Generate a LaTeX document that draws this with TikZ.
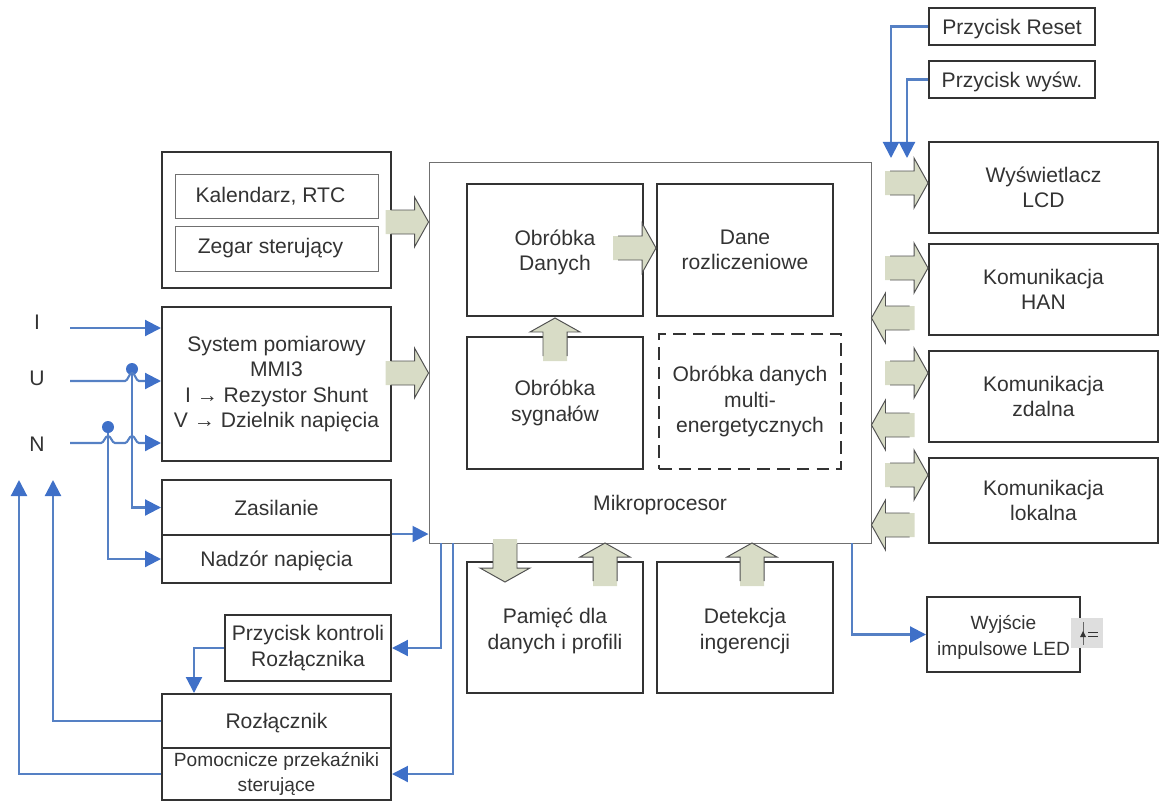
\documentclass[tikz,border=0pt]{standalone}
\usepackage{fontspec}
\setmainfont{Liberation Sans}
\usetikzlibrary{arrows.meta}
\definecolor{wireblue}{HTML}{5580C4}
\definecolor{tipblue}{HTML}{3F70C8}
\definecolor{sage}{HTML}{D8DCC6}
\definecolor{ink}{HTML}{333333}
\newcommand{\lowA}{\rule{0pt}{0.95em}}
\newcommand{\lowB}{\rule{0pt}{1.05em}}
\tikzset{
  wh/.style 2 args={minimum width=#1*0.025cm,minimum height=#2*0.025cm},
  box/.style={draw=ink,line width=1.4pt,inner sep=0pt,align=center,text=ink,
    font=\fontsize{15}{18.2}\selectfont},
  smallbox/.style={box,font=\fontsize{13.6}{18.2}\selectfont},
  thinbox/.style={box,draw=ink!70,line width=0.7pt},
  dashbox/.style={box,dashed,dash pattern=on 9pt off 5pt},
  caption/.style={text=ink,inner sep=0pt,font=\fontsize{15}{18.2}\selectfont},
  wire/.style={draw=wireblue,line width=1.5pt},
  feed/.style={wire,-{Triangle[length=0.4cm,width=0.4cm,color=tipblue]}},
  tapdot/.style={circle,fill=tipblue,inner sep=0pt,minimum size=0.3cm},
  bigarrow/.pic={
    \fill[sage] (-43,-12) -- (-14,-12) -- (-14,-25) -- (0,0) -- (-14,25) -- (-14,12) -- (-43,12) -- cycle;
    \draw[ink!85,line width=0.7pt] (-38,-12) -- (-14,-12) -- (-14,-25) -- (0,0) -- (-14,25) -- (-14,12) -- (-38,12);
  }
}

\begin{document}
\begin{tikzpicture}[x=0.025cm,y=-0.025cm]
\useasboundingbox (0,0) rectangle (1163,802);

\node[thinbox,wh={442}{381}] (mcu) at (650,352.5) {};
\node[caption] (mculabel) at (660,505) {Mikroprocesor};

\node[box,wh={229}{136}] (clock) at (276.5,220) {};
\node[thinbox,wh={203}{44},font=\fontsize{15}{18.2}\selectfont] (rtc) at (276.5,196) {\kern-0.3cm Kalendarz, RTC};
\node[thinbox,wh={203}{45}] (ctrlclock) at (276.5,248.5) {\kern-0.3cm Zegar sterujący};
\node[box,wh={229}{154}] (meter) at (276.5,384) {System pomiarowy\\MMI3\\I → Rezystor Shunt\\V → Dzielnik napięcia};
\node[box,wh={229}{55}] (supply) at (276.5,507.5) {Zasilanie};
\node[box,wh={229}{48}] (monitor) at (276.5,559) {\lowA Nadzór napięcia};
\node[box,wh={166}{66}] (breakbtn) at (308,648) {Przycisk kontroli\\Rozłącznika};
\node[box,wh={229}{54}] (breaker) at (276.5,721) {\lowA Rozłącznik};
\node[smallbox,wh={229}{52}] (relays) at (276.5,774) {Pomocnicze przekaźniki\\sterujące};

\node[box,wh={176}{132}] (dataproc) at (555,250) {\lowA Obróbka\\Danych};
\node[box,wh={176}{132}] (billing) at (745,250) {Dane\\rozliczeniowe};
\node[box,wh={176}{132}] (signal) at (555,403) {Obróbka\\sygnałów};
\node[dashbox,wh={182}{135}] (multi) at (750,401.5) {Obróbka danych\\multi-\\energetycznych};
\node[box,wh={176}{131}] (memory) at (555,627.5) {\lowB Pamięć dla\\danych i profili};
\node[box,wh={176}{131}] (tamper) at (745,627.5) {\lowB Detekcja\\ingerencji};

\node[box,wh={166}{37}] (resetbtn) at (1012,26.5) {\lowA Przycisk Reset};
\node[box,wh={166}{37}] (dispbtn) at (1012,79.5) {\lowA Przycisk wyśw.};
\node[box,wh={229}{91}] (lcd) at (1043.5,187.5) {Wyświetlacz\\LCD};
\node[box,wh={229}{91}] (han) at (1043.5,289.5) {Komunikacja\\HAN};
\node[box,wh={229}{91}] (remote) at (1043.5,396.5) {Komunikacja\\zdalna};
\node[box,wh={229}{85}] (local) at (1043.5,500.5) {Komunikacja\\lokalna};
\node[smallbox,wh={153}{75}] (led) at (1003.5,634.5) {\lowB Wyjście\\impulsowe LED};

\node[caption] (inI) at (37,322) {I};
\node[caption] (inU) at (37,378) {U};
\node[caption] (inN) at (37,444) {N};
\coordinate (startI) at (70,328);
\coordinate (startU) at (70,381);
\coordinate (startN) at (70,443);
\node[tapdot] (tapU) at (132,369) {};
\node[tapdot] (tapN) at (108,427) {};
\coordinate (tripA) at (53,480);
\coordinate (tripB) at (19,480);
\coordinate (outA) at (441,543);
\coordinate (outB) at (453,543);
\coordinate (outC) at (852,543);
\coordinate (lcdA) at (891,158);
\coordinate (lcdB) at (907,158);

\draw[feed] (startI) -- (startI -| meter.west);
\draw[feed] (startU) -- (125,381) .. controls (128,381) and (129,373) .. (132,373) .. controls (135,373) and (136,381) .. (139,381) -- (startU -| meter.west);
\draw[feed] (startN) -- (101,443) .. controls (104,443) and (105,436) .. (108,436) .. controls (111,436) and (112,443) .. (115,443) -- (125,443) .. controls (128,443) and (129,436) .. (132,436) .. controls (135,436) and (136,443) .. (139,443) -- (startN -| meter.west);
\draw[feed] (tapU) |- (supply.west);
\draw[feed] (tapN) |- (monitor.west);
\draw[feed] (monitor.north east) -- (monitor.north east -| mcu.west);
\draw[feed] (outA) |- (breakbtn.east);
\draw[feed] (outB) |- (relays.east);
\draw[feed] (breakbtn.west) -| (breaker.north -| 194,0);
\draw[feed] (breaker.west) -| (tripA);
\draw[feed] (relays.west) -| (tripB);
\draw[feed] (resetbtn.west) -| (lcdA);
\draw[feed] (dispbtn.west) -| (lcdB);
\draw[feed] (outC) |- (led.west);

\pic at (mcu.west |- 0,222) {bigarrow};
\pic at (mcu.west |- 0,373) {bigarrow};
\pic at (billing.west |- 0,248) {bigarrow};
\pic[rotate=90] at (555,318) {bigarrow};
\pic[rotate=-90] at (505,582) {bigarrow};
\pic[rotate=90] at (605,543) {bigarrow};
\pic[rotate=90] at (752,543) {bigarrow};
\pic at (lcd.west |- 0,183) {bigarrow};
\pic at (han.west |- 0,268) {bigarrow};
\pic[rotate=180] at (mcu.east |- 0,318) {bigarrow};
\pic at (remote.west |- 0,373) {bigarrow};
\pic[rotate=180] at (mcu.east |- 0,425) {bigarrow};
\pic at (local.west |- 0,475) {bigarrow};
\pic[rotate=180] at (mcu.east |- 0,525) {bigarrow};

\fill[black!13] (1071,618) rectangle (1103,648);
\draw[black!60,line width=0.4pt] (1083,622) -- (1083,645);
\fill[ink] (1080,637) -- (1086,637) -- (1083,631) -- cycle;
\draw[ink,line width=0.5pt] (1088,632) -- (1098,632);
\draw[ink,line width=0.5pt] (1088,636) -- (1098,636);
\end{tikzpicture}
\end{document}
